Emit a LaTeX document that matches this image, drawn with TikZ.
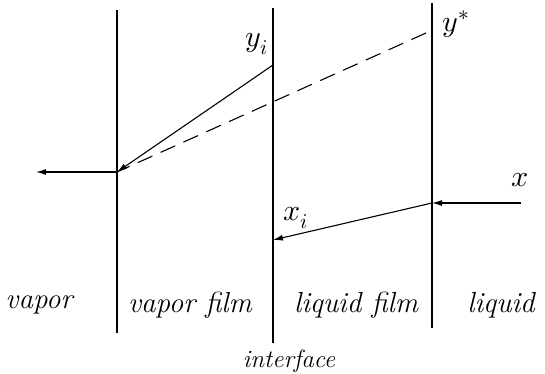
\documentclass[tikz,border=0pt]{standalone}
\usepackage{fontspec}
\usepackage{unicode-math}
\setmathfont{Latin Modern Math}
\usetikzlibrary{arrows.meta}
\begin{document}
\begin{tikzpicture}[x=1pt,y=-1pt,
  ln/.style={line width=1.1pt},
  arr/.style={ln,-{Latex[length=10pt,width=6pt]}},
  lbl/.style={font=\fontsize{29}{33}\selectfont\itshape},
  mlbl/.style={font=\fontsize{30}{34}\selectfont}]
\useasboundingbox (0,0) rectangle (545,374);
% vertical lines
\coordinate (l1t) at (117,10); \coordinate (l1b) at (117,333);
\coordinate (l2t) at (273,8);  \coordinate (l2b) at (273,343);
\coordinate (l3t) at (432,3);  \coordinate (l3b) at (432,328);
\draw[ln] (l1t) -- (l1b);
\draw[ln] (l2t) -- (l2b);
\draw[ln] (l3t) -- (l3b);
% points
\coordinate (yi) at (273,65);
\coordinate (ys) at (426,33);
\coordinate (v) at (117,172);
\coordinate (vout) at (36,172);
\coordinate (xin) at (521,203);
\coordinate (xr) at (432,203);
\coordinate (xi) at (273,240);
\draw[arr] (yi) -- (v);
\draw[ln,dash pattern=on 16pt off 9pt] (ys) -- (v);
\draw[arr] (v) -- (vout);
\draw[arr] (xin) -- (xr);
\draw[arr] (xr) -- (xi);
% labels
\node[mlbl] (nyi) at (257,44) {$y_i$};
\node[mlbl] (nys) at (456,24) {$y^*$};
\node[mlbl] (nx) at (520,180) {$x$};
\node[mlbl] (nxi) at (296,218) {$x_i$};
\node[lbl] (t1) at (39,305) {vapor};
\node[lbl] (t2) at (190,305) {vapor film};
\node[lbl] (t3) at (356,305) {liquid film};
\node[lbl] (t4) at (501,305) {liquid};
\node[lbl,font=\fontsize{25}{28}\selectfont\itshape] (t5) at (289,361) {interface};
\end{tikzpicture}
\end{document}
